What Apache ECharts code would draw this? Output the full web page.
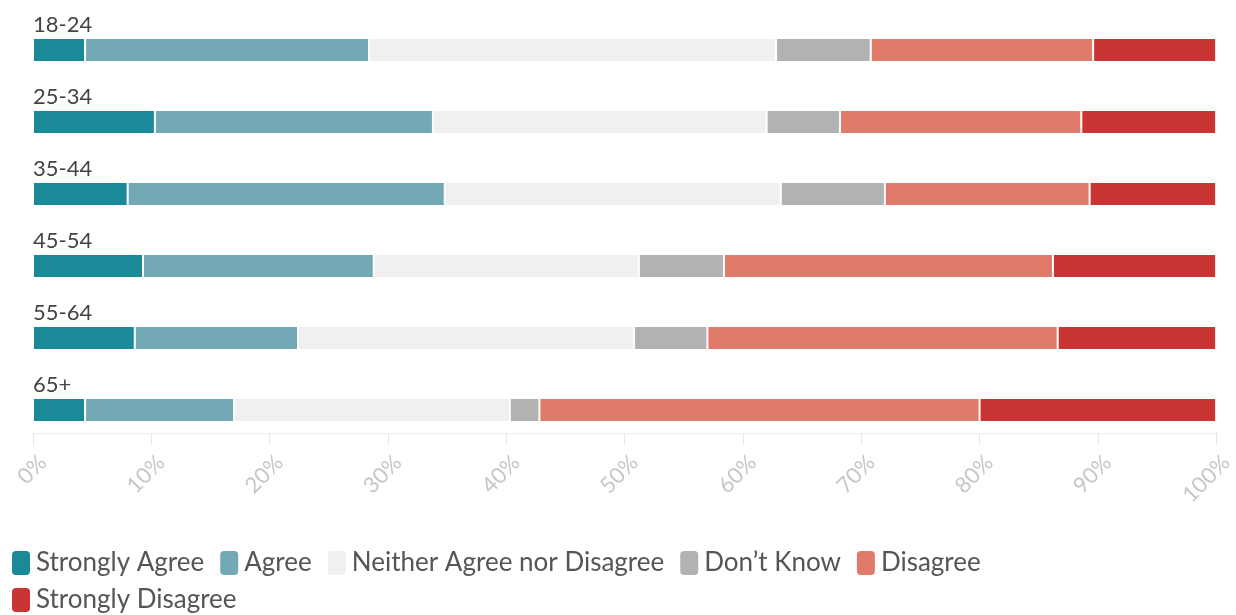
<!DOCTYPE html>
<html>
<head>
<meta charset="utf-8">
<script src="https://cdn.jsdelivr.net/npm/echarts@6/dist/echarts.min.js"></script>
<style>
  html, body { margin: 0; padding: 0; background: #fff; }
  #chart { width: 1236px; height: 615px; }
</style>
</head>
<body>
<div id="chart"></div>
<script>
// Age groups, top to bottom
const ageGroups = ['18-24', '25-34', '35-44', '45-54', '55-64', '65+'];

// Share of respondents per answer (%), one value per age group
const stronglyAgree    = [4.4, 10.3, 8.0, 9.3, 8.6, 4.4];
const agree            = [24.0, 23.5, 26.8, 19.5, 13.8, 12.6];
const neither          = [34.4, 28.2, 28.4, 22.4, 28.4, 23.3];
const dontKnow         = [8.0, 6.2, 8.8, 7.2, 6.2, 2.5];
const disagree         = [18.8, 20.4, 17.3, 27.8, 29.6, 37.2];
const stronglyDisagree = [10.4, 11.4, 10.7, 13.8, 13.4, 20.0];

const answerNames = ['Strongly Agree', 'Agree', 'Neither Agree nor Disagree', 'Don\u2019t Know', 'Disagree', 'Strongly Disagree'];
const answerValues = [stronglyAgree, agree, neither, dontKnow, disagree, stronglyDisagree];
const answerColors = ['#1b8a98', '#72a9b4', '#f0f0f0', '#b2b2b2', '#e07b6c', '#c93434'];

const FONT = 'Lato';

const chart = echarts.init(document.getElementById('chart'), null, { renderer: 'canvas' });

chart.setOption({
  animation: false,
  textStyle: { fontFamily: FONT },
  color: answerColors,
  grid: { left: 33, right: 17, top: 14, bottom: 169, containLabel: false },
  xAxis: {
    type: 'value',
    min: 0,
    max: 100,
    interval: 10,
    offset: -13,
    axisLine: { show: true, lineStyle: { color: '#ececec', width: 1 } },
    axisTick: { show: true, length: 12, lineStyle: { color: '#e6e6e6' } },
    splitLine: { show: false },
    axisLabel: {
      rotate: 45,
      margin: 36,
      padding: [0, -14, 0, 0],
      color: '#c6c6c6',
      fontSize: 22,
      fontFamily: FONT,
      formatter: v => v + '%'
    }
  },
  yAxis: {
    type: 'category',
    data: ageGroups,
    inverse: true,
    axisLine: { show: false },
    axisTick: { show: false },
    axisLabel: {
      inside: true,
      margin: 0,
      align: 'left',
      verticalAlign: 'bottom',
      padding: [0, 0, 14, 0],
      color: '#444',
      fontSize: 22,
      fontFamily: FONT
    }
  },
  legend: {
    left: 5,
    top: 544,
    width: 1100,
    itemWidth: 20,
    itemHeight: 26,
    itemGap: 9,
    icon: 'roundRect',
    textStyle: { color: '#555', fontSize: 26, lineHeight: 26, fontFamily: FONT, padding: [0, 5, 0, 0] },
    data: answerNames
  },
  series: answerNames.map((name, i) => ({
    name: name,
    type: 'bar',
    stack: 'total',
    barWidth: 24,
    data: answerValues[i],
    itemStyle: { color: answerColors[i], borderColor: '#fff', borderWidth: 1 },
    emphasis: { disabled: true }
  }))
});
</script>
</body>
</html>
